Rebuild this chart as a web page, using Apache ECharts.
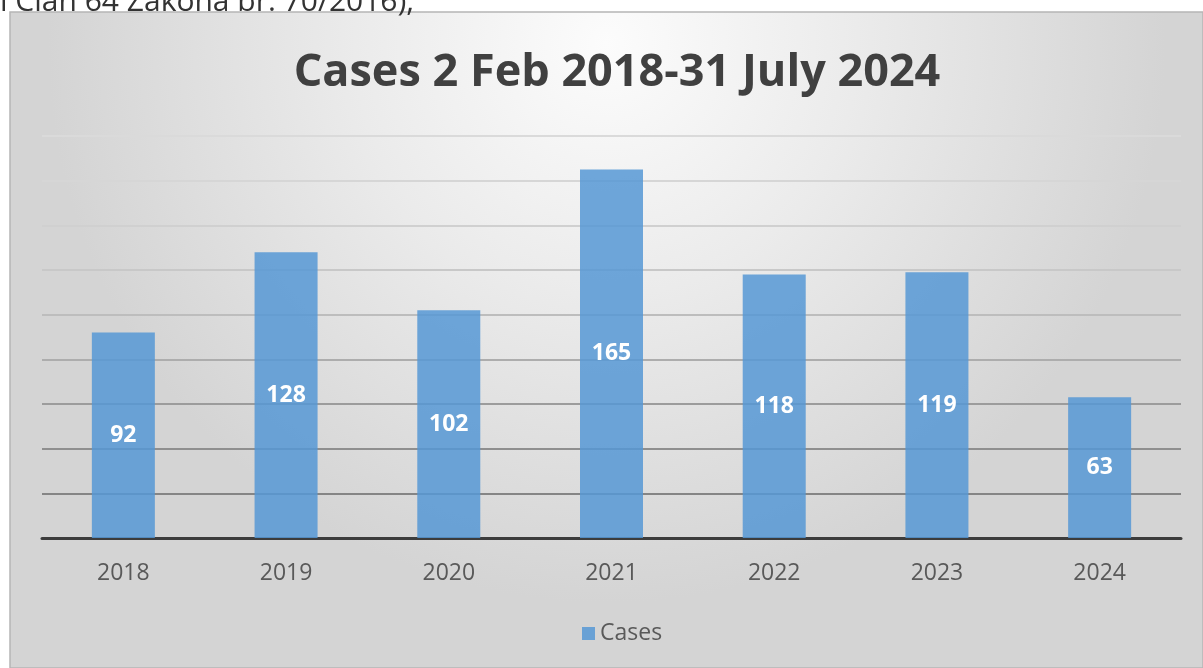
<!DOCTYPE html>
<html>
<head>
<meta charset="utf-8">
<script src="https://cdn.jsdelivr.net/npm/echarts@6/dist/echarts.min.js"></script>
<style>
html,body{margin:0;padding:0;background:#fff;}
#chart{width:1203px;height:668px;}
</style>
</head>
<body>
<div id="chart"></div>
<script>
const titleText = 'Cases 2 Feb 2018-31 July 2024';
const topText = 'i Član 64 Zakona br. 70/2016),';
const categories = ['2018','2019','2020','2021','2022','2023','2024'];
const seriesName = 'Cases';
const cases = [92, 128, 102, 165, 118, 119, 63];

const chart = echarts.init(document.getElementById('chart'));
const gridColors = ['#777','#858585','#8f8f8f','#9c9c9c','#adadad','#bdbdbd','#c8c8c8','#d0d0d0','#d6d6d6','#dadada'];
chart.setOption({
  animation: false,
  graphic: [
    {
      type: 'rect', z: -10, silent: true,
      shape: {x: 10, y: 12, width: 1193, height: 656},
      style: {
        fill: {
          type: 'radial', x: 0.5, y: 0.05, r: 0.85,
          colorStops: [
            {offset: 0, color: '#fcfcfc'},
            {offset: 0.45, color: '#ebebeb'},
            {offset: 1, color: '#d4d4d4'}
          ]
        },
        stroke: '#b5b5b5', lineWidth: 1.5
      }
    },
    {
      type: 'text', left: 0, top: -13, z: 10,
      style: {text: topText, fill: '#333', font: '30px "Open Sans"'}
    }
  ],
  title: {
    text: titleText,
    left: 612, top: 46, textAlign: 'center',
    textStyle: {fontFamily: 'Open Sans', fontWeight: 'bold', fontSize: 45, color: '#404040'}
  },
  legend: {
    data: [seriesName],
    bottom: 18, left: 577,
    icon: 'rect', itemWidth: 13, itemHeight: 13, itemGap: 8,
    textStyle: {fontFamily: 'Open Sans', fontSize: 23, color: '#595959'}
  },
  grid: {left: 42, right: 22, top: 136, bottom: 130, containLabel: false},
  xAxis: {
    type: 'category', data: categories,
    axisLine: {lineStyle: {color: '#3c3c3c', width: 3}},
    axisTick: {show: false},
    axisLabel: {fontFamily: 'Open Sans', fontSize: 23, color: '#595959', margin: 24}
  },
  yAxis: {
    type: 'value', min: 0, max: 180, interval: 20,
    axisLabel: {show: false}, axisLine: {show: false}, axisTick: {show: false},
    splitLine: {lineStyle: {color: gridColors, width: 2}}
  },
  series: [{
    name: seriesName, type: 'bar', data: cases,
    barWidth: 63,
    itemStyle: {color: 'rgba(86,152,213,0.85)'},
    label: {show: true, position: 'inside', color: '#fff', fontFamily: 'Open Sans', fontWeight: 'bold', fontSize: 23}
  }]
});
</script>
</body>
</html>
